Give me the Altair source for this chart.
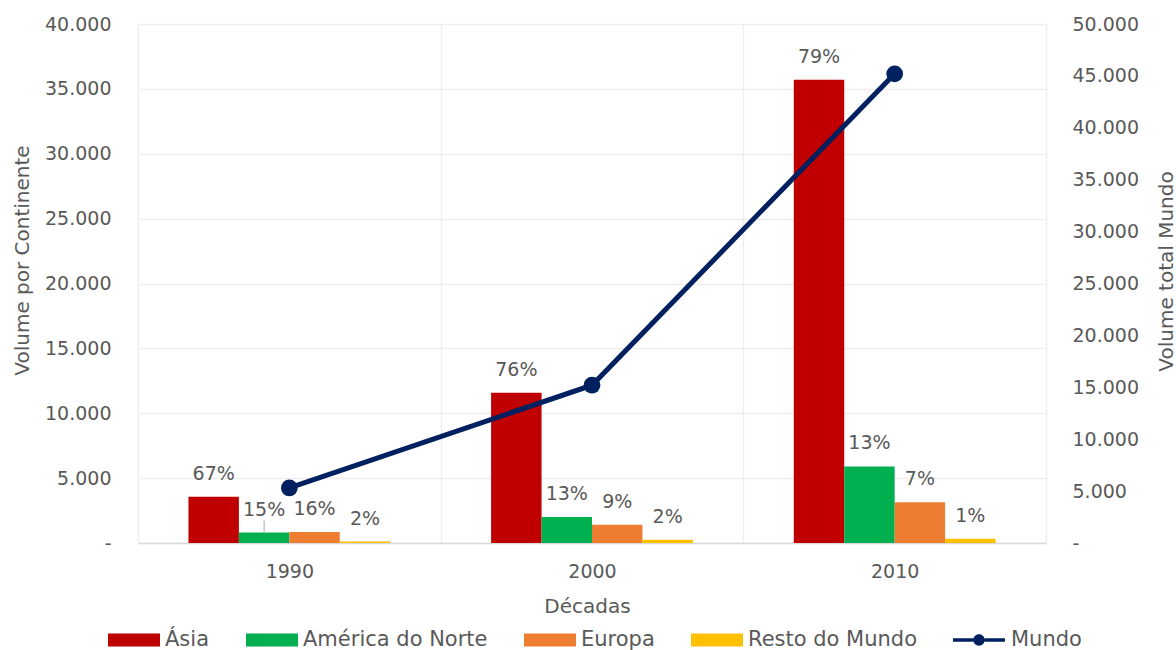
import altair as alt
import pandas as pd

# Volumes por década e continente
decadas = ["1990", "2000", "2010"]
continentes = ["Ásia", "América do Norte", "Europa", "Resto do Mundo"]
asia = [3560, 11580, 35700]
america_norte = [800, 2000, 5900]
europa = [850, 1410, 3150]
resto_mundo = [110, 260, 330]
mundo = [5300, 15200, 45200]

cores = ["#C00000", "#00B050", "#ED7D31", "#FFC000"]
COR_MUNDO = "#002060"

FONT = "DejaVu Sans"
CINZA = "#595959"
GRELHA = "#EEEEEE"

rows = []
for i, d in enumerate(decadas):
    for c, serie in zip(continentes, [asia, america_norte, europa, resto_mundo]):
        v = serie[i]
        rows.append({
            "decada": d,
            "continente": c,
            "volume": v,
            "pct": f"{round(v / mundo[i] * 100)}%",
        })
barras_df = pd.DataFrame(rows)
mundo_df = pd.DataFrame({"decada": decadas, "mundo": mundo, "serie": "Mundo"})

# thousands separated by "." and zero shown as a dash
LABEL_LEFT = "datum.value == 0 ? '-\u00a0\u00a0' : replace(format(datum.value, ','), ',', '.')"
LABEL_RIGHT = "datum.value == 0 ? '-' : replace(format(datum.value, ','), ',', '.')"

RECT_PATH = "M-1,-0.25H1V0.25H-1Z"
LINE_PATH = ("M-1,-0.07H-0.22V0.07H-1Z M0.22,-0.07H1V0.07H0.22Z "
             "M-0.22,0A0.22,0.22,0,1,1,0.22,0A0.22,0.22,0,1,1,-0.22,0Z")

# the same x definition is used by every layer so that the shared axis merges cleanly
x_enc = alt.X(
    "decada:N",
    sort=decadas,
    scale=alt.Scale(paddingInner=0, paddingOuter=0),
    axis=alt.Axis(
        title="Décadas",
        labelAngle=0,
        tickBand="extent",
        grid=True,
        gridColor=GRELHA,
        gridWidth=1.5,
        ticks=False,
        domainColor="#D9D9D9",
        domainWidth=1.5,
        labelPadding=19,
        labelFont=FONT,
        labelFontSize=19,
        labelColor=CINZA,
        titleFont=FONT,
        titleFontSize=20,
        titleFontWeight="normal",
        titleColor=CINZA,
        titleX=449,
        titleY=63,
        titleAlign="center",
        titleBaseline="middle",
    ),
)
x_off = alt.XOffset(
    "continente:N",
    sort=continentes,
    scale=alt.Scale(domain=continentes, paddingInner=0, paddingOuter=1),
)

y_left = alt.Y(
    "volume:Q",
    scale=alt.Scale(domain=[0, 40000], nice=False),
    axis=alt.Axis(
        orient="left",
        values=list(range(0, 40001, 5000)),
        labelExpr=LABEL_LEFT,
        title="Volume por Continente",
        grid=True,
        gridColor=GRELHA,
        gridWidth=1.5,
        domain=False,
        ticks=False,
        labelPadding=27,
        labelFont=FONT,
        labelFontSize=19,
        labelColor=CINZA,
        titleFont=FONT,
        titleFontSize=20,
        titleFontWeight="normal",
        titleColor=CINZA,
        titleX=-116,
        titleY=236,
        titleAngle=270,
        titleAlign="center",
        titleBaseline="middle",
    ),
)
y_left_plain = alt.Y("volume:Q", scale=alt.Scale(domain=[0, 40000], nice=False), axis=None)

legenda_barras = alt.Legend(
    orient="none",
    legendX=-30,
    legendY=590,
    direction="horizontal",
    title=None,
    labelFont=FONT,
    labelFontSize=21,
    labelColor=CINZA,
    labelOffset=5,
    labelLimit=400,
    columnPadding=36,
    symbolSize=2704,
    symbolStrokeWidth=0,
    symbolOpacity=1,
    symbolType=RECT_PATH,
)

legenda_mundo = alt.Legend(
    orient="none",
    legendX=815,
    legendY=590,
    direction="horizontal",
    title=None,
    labelFont=FONT,
    labelFontSize=21,
    labelColor=CINZA,
    labelOffset=6,
    labelLimit=400,
    symbolSize=2704,
    symbolStrokeWidth=0,
    symbolOpacity=1,
    symbolFillColor=COR_MUNDO,
    symbolType=LINE_PATH,
)

barras = alt.Chart(barras_df).mark_bar().encode(
    x=x_enc,
    xOffset=x_off,
    y=y_left,
    color=alt.Color(
        "continente:N",
        scale=alt.Scale(domain=continentes, range=cores),
        legend=legenda_barras,
    ),
)

rotulos = alt.Chart(barras_df).mark_text(
    dy=-23, baseline="middle", font=FONT, fontSize=19, color=CINZA
).encode(x=x_enc, xOffset=x_off, y=y_left_plain, text="pct:N")

guia = alt.Chart(barras_df).transform_filter(
    "datum.decada == '1990' && datum.continente == 'América do Norte'"
).mark_rule(color="#A6A6A6", strokeWidth=1, yOffset=-1, y2Offset=-12).encode(
    x=x_enc, xOffset=x_off, y=y_left_plain, y2="volume:Q"
)

y_right = alt.Y(
    "mundo:Q",
    scale=alt.Scale(domain=[0, 50000], nice=False),
    axis=alt.Axis(
        orient="right",
        values=list(range(0, 50001, 5000)),
        labelExpr=LABEL_RIGHT,
        title="Volume total Mundo",
        grid=False,
        domain=False,
        ticks=False,
        labelPadding=26,
        labelFont=FONT,
        labelFontSize=19,
        labelColor=CINZA,
        titleFont=FONT,
        titleFontSize=20,
        titleFontWeight="normal",
        titleColor=CINZA,
        titleX=120,
        titleY=247,
        titleAngle=270,
        titleAlign="center",
        titleBaseline="middle",
    ),
)
y_right_plain = alt.Y("mundo:Q", scale=alt.Scale(domain=[0, 50000], nice=False), axis=None)

linha = alt.Chart(mundo_df).mark_line(color=COR_MUNDO, strokeWidth=5).encode(
    x=x_enc, y=y_right
)
pontos = alt.Chart(mundo_df).mark_circle(color=COR_MUNDO, size=280).encode(
    x=x_enc,
    y=y_right_plain,
    opacity=alt.Opacity(
        "serie:N",
        scale=alt.Scale(domain=["Mundo"], range=[1]),
        legend=legenda_mundo,
    ),
)

chart = (
    alt.layer(barras, rotulos, guia, linha, pontos)
    .resolve_scale(y="independent")
    .properties(
        width=908,
        height=519,
        autosize=alt.AutoSizeParams(type="none"),
        padding={"left": 138, "top": 24, "right": 130, "bottom": 107},
        background="white",
    )
    .configure_view(stroke=None)
)

chart.save("out.html", embed_options={"renderer": "svg", "actions": False})
